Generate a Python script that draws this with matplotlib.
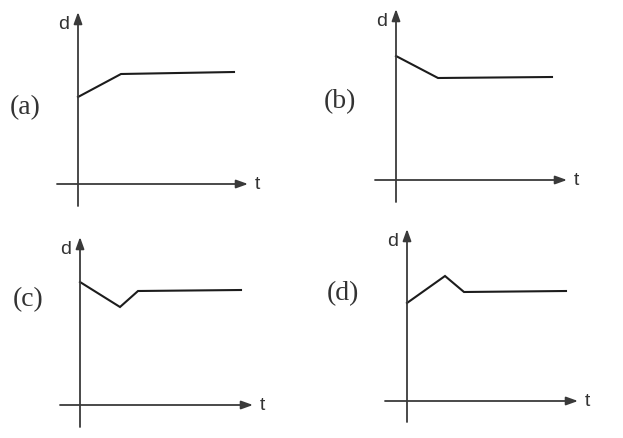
import numpy as np
import matplotlib.pyplot as plt

# d-t graphs, values in pixel-like units measured from the axis crossing
labels = ['(a)', '(b)', '(c)', '(d)']

t_a = [0, 43, 156]
d_a = [87, 110, 112]

t_b = [0, 42, 156]
d_b = [124, 102, 103]

t_c = [0, 40, 58, 161]
d_c = [123, 98, 114, 115]

t_d = [0, 38, 57, 159]
d_d = [98, 125, 109, 110]

series = [(t_a, d_a), (t_b, d_b), (t_c, d_c), (t_d, d_d)]

# layout: axis crossing of each panel (pixels) and axis extents
origins = [(78, 185), (396, 181), (80, 406), (407, 402)]
extents = [(-21, 170, -22, 172), (-21, 171, -22, 171),
           (-20, 173, -22, 168), (-22, 171, -21, 172)]
label_pos = [(-53, 77), (-56, 79), (-52, 106), (-64, 108)]

W, H = 623, 439
fig = plt.figure(figsize=(W / 100, H / 100), dpi=100)
fig.patch.set_facecolor('white')

axis_col = '#3a3a3a'
line_col = '#1c1c1c'
arrow = dict(arrowstyle='-|>,head_length=0.5,head_width=0.18', color=axis_col,
             lw=1.3, mutation_scale=14, shrinkA=0, shrinkB=0)

for lab, (t, d), (ox, oy), (t0, t1, d0, d1), (lx, ly) in zip(
        labels, series, origins, extents, label_pos):
    left, right = ox - 70, ox + 190
    top, bottom = oy - 180, oy + 30
    ax = fig.add_axes([left / W, (H - bottom) / H, (right - left) / W, (bottom - top) / H])
    ax.set_xlim(-70, 190)
    ax.set_ylim(-30, 180)
    ax.axis('off')

    ax.annotate('', xy=(t1, 0), xytext=(t0, 0), arrowprops=arrow, annotation_clip=False)
    ax.annotate('', xy=(0, d1), xytext=(0, d0), arrowprops=arrow, annotation_clip=False)

    ax.plot(t, d, color=line_col, lw=1.5, solid_joinstyle='miter', clip_on=False)

    ax.text(t1 + 9, 0, 't', fontsize=14, family='Liberation Sans', color='#333333',
            ha='center', va='center')
    ax.text(-14, d1 - 12, 'd', fontsize=14, family='Liberation Sans', color='#333333',
            ha='center', va='center')
    ax.text(lx, ly, lab, fontsize=20, family='Liberation Serif', color='#333333',
            ha='center', va='center')

plt.savefig('out.png', dpi=100)
